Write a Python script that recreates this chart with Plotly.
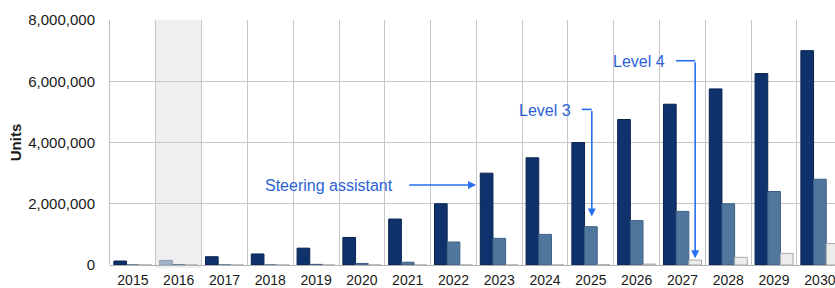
import plotly.graph_objects as go

years = ["2015", "2016", "2017", "2018", "2019", "2020", "2021", "2022",
         "2023", "2024", "2025", "2026", "2027", "2028", "2029", "2030"]
assisted = [130000, 150000, 270000, 360000, 550000, 900000, 1500000, 2000000,
            3000000, 3500000, 4000000, 4750000, 5250000, 5750000, 6250000, 7000000]
level3 = [0, 0, 0, 0, 20000, 50000, 90000, 750000,
          870000, 1000000, 1250000, 1450000, 1750000, 2000000, 2400000, 2800000]
level4 = [0, 0, 0, 0, 0, 0, 0, 0,
          0, 0, 10000, 30000, 160000, 250000, 380000, 700000]
highlight_year = "2016"

BLUE_TXT = "#2a62d6"
BLUE_ARR = "#2470ee"
BARGAP = 0.17
bw = (1 - BARGAP) / 3

xi = list(range(len(years)))
hi = years.index(highlight_year)

fig = go.Figure()
fig.add_trace(go.Bar(
    x=xi, y=assisted, name="Assisted",
    marker=dict(color=["#a3b3c9" if i == hi else "#0f326c" for i in xi],
                line=dict(color=["#8a9ab0" if i == hi else "#09244f" for i in xi], width=1))))
fig.add_trace(go.Bar(
    x=xi, y=level3, name="Level 3",
    marker=dict(color="#52779e", line=dict(color="#3c5f86", width=1))))
fig.add_trace(go.Bar(
    x=xi, y=level4, name="Level 4",
    marker=dict(color="#ececec", line=dict(color="#a8a8a8", width=1))))

# highlighted year band
fig.add_shape(type="rect", xref="x", yref="paper", x0=hi - 0.5, x1=hi + 0.5,
              y0=-0.012, y1=1, fillcolor="#efefef", line=dict(width=0), layer="below")

i25 = years.index("2025")
i27 = years.index("2027")
i23 = years.index("2023")

# Steering assistant
fig.add_annotation(x=5.72, y=2.61e6, text="Steering assistant", showarrow=False,
                   xanchor="right", yanchor="middle",
                   font=dict(family="Liberation Sans, Arial", size=16, color=BLUE_TXT))
fig.add_annotation(x=i23 - bw - 0.23, y=2.61e6, ax=6.0, ay=2.61e6, axref="x", ayref="y",
                   text="", showarrow=True, arrowhead=2, arrowsize=1, arrowwidth=1.6,
                   arrowcolor=BLUE_ARR)

# Level 3
fig.add_annotation(x=9.62, y=5.06e6, text="Level 3", showarrow=False,
                   xanchor="right", yanchor="middle",
                   font=dict(family="Liberation Sans, Arial", size=16, color=BLUE_TXT))
fig.add_shape(type="line", xref="x", yref="y", x0=9.80, x1=i25 + 0.02, y0=5.08e6, y1=5.08e6,
              line=dict(color=BLUE_ARR, width=1.6))
fig.add_annotation(x=i25 + 0.02, y=level3[i25] + 0.33e6, ax=i25 + 0.02, ay=5.08e6,
                   axref="x", ayref="y", text="", showarrow=True, arrowhead=2,
                   arrowsize=1, arrowwidth=1.6, arrowcolor=BLUE_ARR)

# Level 4
fig.add_annotation(x=11.67, y=6.64e6, text="Level 4", showarrow=False,
                   xanchor="right", yanchor="middle",
                   font=dict(family="Liberation Sans, Arial", size=16, color=BLUE_TXT))
fig.add_shape(type="line", xref="x", yref="y", x0=11.86, x1=i27 + bw, y0=6.67e6, y1=6.67e6,
              line=dict(color=BLUE_ARR, width=1.6))
fig.add_annotation(x=i27 + bw, y=level4[i27] + 0.06e6, ax=i27 + bw, ay=6.67e6,
                   axref="x", ayref="y", text="", showarrow=True, arrowhead=2,
                   arrowsize=1, arrowwidth=1.6, arrowcolor=BLUE_ARR)

fig.update_layout(
    width=835, height=288,
    margin=dict(l=110, r=0, t=20, b=23, autoexpand=False),
    paper_bgcolor="white", plot_bgcolor="white",
    barmode="group", bargap=BARGAP, bargroupgap=0,
    showlegend=False,
    font=dict(family="Liberation Sans, Arial", color="#1a1a1a"),
)
fig.update_xaxes(
    range=[-0.5, 15.33], tickvals=xi, ticktext=years, showgrid=False,
    tickfont=dict(size=14), ticks="", ticklen=0, ticklabelstandoff=5,
    ticklabeloverflow="allow",
    minor=dict(tick0=0.5, dtick=1, showgrid=True, gridcolor="#c6c6c6", gridwidth=1),
    showline=False, zeroline=False, fixedrange=True,
)
fig.update_yaxes(
    range=[0, 8e6], dtick=2e6, tickformat=",", tickfont=dict(size=15),
    showgrid=True, gridcolor="#c6c6c6", gridwidth=1,
    showline=True, linecolor="#bdbdbd", linewidth=1,
    zeroline=True, zerolinecolor="#b0b0b0", zerolinewidth=1,
    ticks="", ticklen=0, ticklabelstandoff=11,
    title=dict(text="<b>Units</b>", font=dict(size=15), standoff=3),
)

fig.write_html("out.html", config={"displayModeBar": False},
               post_script="document.body.style.margin='0';document.body.style.overflow='hidden';")
